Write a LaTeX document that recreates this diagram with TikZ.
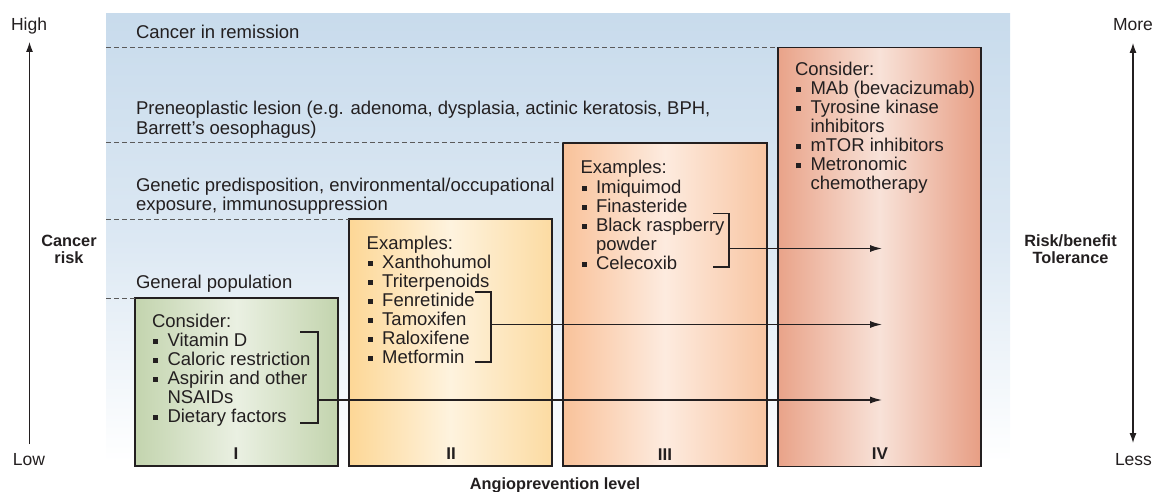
\documentclass[tikz,border=0pt]{standalone}
\usepackage{fontspec}
\setmainfont{Liberation Sans}
\usetikzlibrary{arrows.meta}
\definecolor{ink}{HTML}{231F20}
\definecolor{bgtop}{HTML}{C8DBEC}
\definecolor{bgmid}{HTML}{DCE8F3}
\definecolor{gEdge}{HTML}{C3D4AE}
\definecolor{gMid}{HTML}{EAF0E2}
\definecolor{yEdgeL}{HTML}{FDD796}
\definecolor{yMid}{HTML}{FEF3DE}
\definecolor{yEdgeR}{HTML}{FCDBA2}
\definecolor{pEdgeL}{HTML}{F9C29A}
\definecolor{pMid}{HTML}{FDEBDF}
\definecolor{pEdgeR}{HTML}{F8C5A2}
\definecolor{rEdgeL}{HTML}{E9A389}
\definecolor{rMid}{HTML}{F8E2D8}
\definecolor{rEdgeR}{HTML}{E79E84}
\definecolor{dashc}{HTML}{5A5A5A}
\newcommand{\myb}{\makebox[15.5pt][l]{\hspace*{1pt}\raisebox{2.4pt}{\rule{5pt}{5pt}}}}
\newcommand{\myi}{\hspace*{15.5pt}}
\begin{document}
\begin{tikzpicture}[x=1pt,y=-1pt,
  every node/.style={text=ink, inner sep=0pt, outer sep=0pt},
  lbl/.style={anchor=base west, font=\fontsize{18.5}{18.7}\selectfont},
  bld/.style={font=\bfseries\fontsize{16.3}{16.6}\selectfont},
  num/.style={anchor=base, font=\bfseries\fontsize{17}{17}\selectfont},
  stagebox/.style={draw=ink, line width=1.3pt, rectangle, anchor=north west},
  dashln/.style={draw=dashc, line width=0.9pt, dash pattern=on 5pt off 3pt},
  brk/.style={draw=ink, line width=1.2pt},
  arr/.style={draw=ink, line width=1.2pt, -{Latex[length=12pt,width=7pt]}},
  axis/.style={draw=ink, line width=1.1pt}
]
\useasboundingbox (0,0) rectangle (1152,492);

% background band
\fill[top color=bgtop, bottom color=white, middle color=bgmid, draw=none] (106,14) rectangle (1010,462);

% stage boxes
\node[stagebox, left color=gEdge, right color=gEdge, middle color=gMid, minimum width=203pt, minimum height=168pt] (b1) at (135,298) {};
\node[stagebox, left color=yEdgeL, right color=yEdgeR, middle color=yMid, minimum width=203pt, minimum height=247pt] (b2) at (349,219) {};
\node[stagebox, left color=pEdgeL, right color=pEdgeR, middle color=pMid, minimum width=204pt, minimum height=323pt] (b3) at (563,143) {};
\node[stagebox, left color=rEdgeL, right color=rEdgeR, middle color=rMid, minimum width=203pt, minimum height=419pt] (b4) at (778,47.5) {};

% dashed risk levels
\coordinate (d1) at (106,47.5);
\coordinate (d2) at (106,142.5);
\coordinate (d3) at (106,219);
\coordinate (d4) at (106,298);
\draw[dashln] (d1) -- (b4.north west);
\draw[dashln] (d2) -- (d2 -| b3.west);
\draw[dashln] (d3) -- (b2.north west);
\draw[dashln] (d4) -- (b1.north west);

% band labels
\node[lbl] (t1) at (136,39) {Cancer in remission};
\node[lbl] (t2) at (136,115) {\begin{tabular}[t]{@{}l@{}}Preneoplastic lesion (e.g. adenoma, dysplasia, actinic keratosis, BPH,\\Barrett’s oesophagus)\end{tabular}};
\node[lbl] (t3) at (136,191.7) {\begin{tabular}[t]{@{}l@{}}Genetic predisposition, environmental/occupational\\exposure, immunosuppression\end{tabular}};
\node[lbl] (t4) at (136,288) {General population};

% box contents
\node[lbl] (c1) at (152,327.3) {\begin{tabular}[t]{@{}l@{}}Consider:\\\myb Vitamin D\\\myb Caloric restriction\\\myb Aspirin and other\\\myi NSAIDs\\\myb Dietary factors\end{tabular}};
\node[lbl] (c2) at (366.7,249.3) {\begin{tabular}[t]{@{}l@{}}Examples:\\\myb Xanthohumol\\\myb Triterpenoids\\\myb Fenretinide\\\myb Tamoxifen\\\myb Raloxifene\\\myb Metformin\end{tabular}};
\node[lbl] (c3) at (580.5,174) {\begin{tabular}[t]{@{}l@{}}Examples:\\\myb Imiquimod\\\myb Finasteride\\\myb Black raspberry\\\myi powder\\\myb Celecoxib\end{tabular}};
\node[lbl] (c4) at (795,75.7) {\begin{tabular}[t]{@{}l@{}}Consider:\\\myb MAb (bevacizumab)\\\myb Tyrosine kinase\\\myi inhibitors\\\myb mTOR inhibitors\\\myb Metronomic\\\myi chemotherapy\end{tabular}};

% roman numerals
\node[num] (n1) at (236,459) {I};
\node[num] (n2) at (451,459) {II};
\node[num] (n3) at (665,460.5) {III};
\node[num] (n4) at (880,459.5) {IV};

% brackets
\coordinate (k1a) at (300,332); \coordinate (k1b) at (318,332);
\coordinate (k1c) at (318,423); \coordinate (k1d) at (300,423);
\coordinate (k1m) at (318,400);
\coordinate (k2a) at (475,292); \coordinate (k2b) at (491,292);
\coordinate (k2c) at (491,362); \coordinate (k2d) at (475,362);
\coordinate (k2m) at (491,324.5);
\coordinate (k3a) at (713,213.5); \coordinate (k3b) at (729,213.5);
\coordinate (k3c) at (729,267); \coordinate (k3d) at (713,267);
\coordinate (k3m) at (729,248.5);
\draw[brk] (k1a) -- (k1b) -- (k1c) -- (k1d);
\draw[brk] (k2a) -- (k2b) -- (k2c) -- (k2d);
\draw[brk] (k3a) -- (k3b) -- (k3c) -- (k3d);
\coordinate (e1) at (882,400);
\coordinate (e2) at (882,324.5);
\coordinate (e3) at (882,248.5);
\draw[arr] (k1m) -- (e1);
\draw[arr] (k2m) -- (e2);
\draw[arr] (k3m) -- (e3);

% left axis
\coordinate (la0) at (29.5,444);
\coordinate (la1) at (29.5,42);
\draw[axis, -{Latex[length=10pt,width=7pt]}] (la0) -- (la1);
\node[anchor=base, font=\fontsize{17.5}{17.5}\selectfont] (high) at (29,30.5) {High};
\node[anchor=base, font=\fontsize{17.5}{17.5}\selectfont] (low) at (29,465) {Low};
\node[bld, anchor=base] (crisk) at (69,246.7) {\begin{tabular}[t]{@{}c@{}}Cancer\\risk\end{tabular}};

% right axis
\coordinate (ra0) at (1133,443);
\coordinate (ra1) at (1133,43);
\draw[axis, {Latex[length=10pt,width=7pt]}-{Latex[length=10pt,width=7pt]}] (ra0) -- (ra1);
\node[anchor=base west, font=\fontsize{17.5}{17.5}\selectfont] (more) at (1113,30.5) {More};
\node[anchor=base west, font=\fontsize{17.5}{17.5}\selectfont] (less) at (1115,465) {Less};
\node[bld, anchor=base] (rbt) at (1070.5,246.7) {\begin{tabular}[t]{@{}c@{}}Risk/benefit\\Tolerance\end{tabular}};

% x-axis title
\node[bld, anchor=base] (xlab) at (555,489) {Angioprevention level};
\end{tikzpicture}
\end{document}
